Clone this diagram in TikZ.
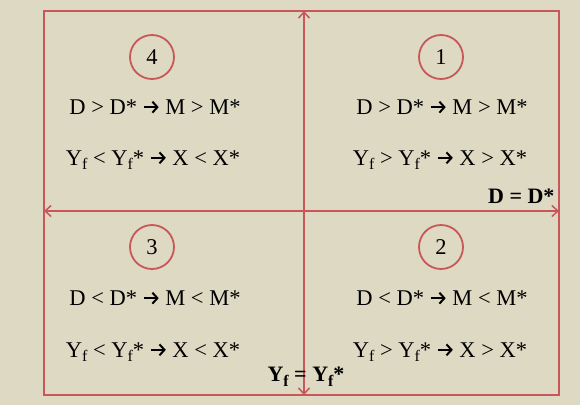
\documentclass[tikz,border=0pt]{standalone}
\usepackage{fontspec}
\setmainfont{Liberation Serif}
\usetikzlibrary{arrows.meta}
\definecolor{bgbeige}{HTML}{DDD9C3}
\definecolor{boxred}{HTML}{C9575A}
\newcommand{\impl}{\tikz[baseline=-0.32em]\draw[black,line width=2pt,-{Straight Barb[length=5pt,width=11pt,line width=2pt]}] (0pt,0pt) -- (15pt,0pt);}
\newcommand{\Yf}{Y\raisebox{-0.45ex}{\fontsize{16}{16}\selectfont f}}
\begin{document}
\begin{tikzpicture}[x=1pt,y=-1pt,
  every node/.style={font=\fontsize{22.5}{27}\selectfont},
  quadnum/.style={circle,draw=boxred,line width=1.8pt,minimum size=44pt,inner sep=0pt},
  rel/.style={anchor=center},
  axislabel/.style={font=\fontsize{22}{26}\selectfont\bfseries},
  axis/.style={boxred,line width=1.5pt,{Straight Barb[length=6pt,width=11pt]}-{Straight Barb[length=6pt,width=11pt]}}]
  \useasboundingbox (0,0) rectangle (580,405);
  \fill[bgbeige] (0,0) rectangle (580,405);
  \draw[boxred,line width=1.2pt] (44,11) rectangle (559,395);

  % axes
  \coordinate (top) at (304,11);
  \coordinate (bottom) at (304,395);
  \coordinate (left) at (44,211);
  \coordinate (right) at (559,211);
  \draw[axis] (top) -- (bottom);
  \draw[axis] (left) -- (right);

  % quadrant numbers
  \node[quadnum] (n4) at (152,57) {4};
  \node[quadnum] (n1) at (441,57) {1};
  \node[quadnum] (n3) at (152,247) {3};
  \node[quadnum] (n2) at (441,247) {2};

  % quadrant 4
  \node[rel] (q4a) at (155,107) {D > D* \impl{} M > M*};
  \node[rel] (q4b) at (153,160) {\Yf{} < \Yf* \impl{} X < X*};
  % quadrant 1
  \node[rel] (q1a) at (442,107) {D > D* \impl{} M > M*};
  \node[rel] (q1b) at (440,160) {\Yf{} > \Yf* \impl{} X > X*};
  % quadrant 3
  \node[rel] (q3a) at (155,298) {D < D* \impl{} M < M*};
  \node[rel] (q3b) at (153,352) {\Yf{} < \Yf* \impl{} X < X*};
  % quadrant 2
  \node[rel] (q2a) at (442,298) {D < D* \impl{} M < M*};
  \node[rel] (q2b) at (440,352) {\Yf{} > \Yf* \impl{} X > X*};

  % axis labels
  \node[axislabel,anchor=east] (dlab) at (558,196) {D = D*};
  \node[axislabel] (ylab) at (306,377) {\Yf{} = \Yf*};
\end{tikzpicture}
\end{document}
